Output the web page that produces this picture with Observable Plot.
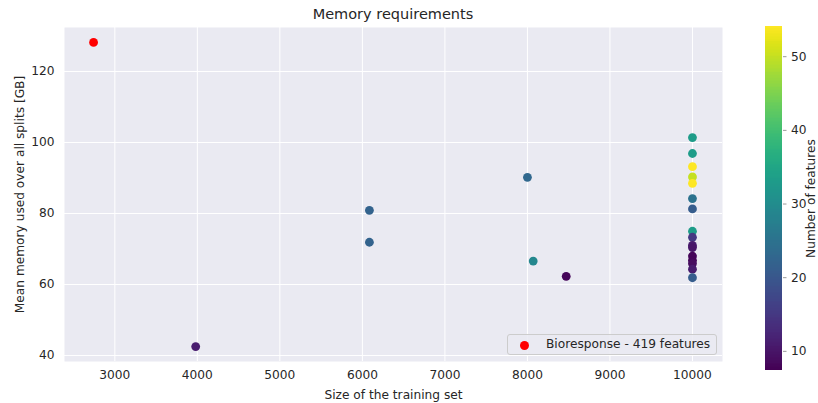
<!DOCTYPE html>
<html>
<head>
<meta charset="utf-8">
<script src="https://cdn.jsdelivr.net/npm/d3@7"></script>
<script src="https://cdn.jsdelivr.net/npm/@observablehq/plot@0.6"></script>
<style>
  html, body { margin: 0; padding: 0; background: #fff; }
  #wrap { position: relative; width: 818px; height: 403px; font-family: "DejaVu Sans", sans-serif; color: #262626; overflow: hidden; }
  #title { position: absolute; left: 64px; width: 658px; top: 7px; text-align: center; font-size: 14.5px; line-height: 1; }
  #legend { position: absolute; left: 507px; top: 334px; width: 210px; height: 21px; box-sizing: border-box;
            background: rgba(234,234,242,0.85); border: 1px solid #cccccc; border-radius: 3px; font-size: 12.2px; }
  #legend .dot { position: absolute; left: 12px; top: 6px; width: 9px; height: 9px; border-radius: 50%; background: red; }
  #legend .txt { position: absolute; left: 38px; top: 3px; white-space: nowrap; line-height: 1; }
  #main, #cbar { position: absolute; top: 0; }
  #main { left: 0; width: 740px; }
  #cbar { left: 765px; width: 53px; }
  svg { max-width: none !important; }
</style>
</head>
<body>
<div id="wrap">
  <div id="main"></div>
  <div id="cbar"></div>
  <div id="title"></div>
  <div id="legend"><span class="dot"></span><span class="txt"></span></div>
</div>
<script>
// ---- data ----
const chartTitle = "Memory requirements";
const xLabel = "Size of the training set";
const yLabel = "Mean memory used over all splits [GB]";
const colorLabel = "Number of features";
const trainSize = [3980, 6085, 6085, 8000, 8070, 8470,
  10000, 10000, 10000, 10000, 10000, 10000, 10000, 10000,
  10000, 10000, 10000, 10000, 10000, 10000, 10000, 10000];
const memoryGB = [42.5, 80.9, 71.9, 90.2, 66.6, 62.3,
  101.4, 96.9, 93.2, 90.3, 88.5, 84.2, 81.3, 75.0,
  73.3, 71.0, 70.4, 68.0, 66.8, 65.9, 64.3, 61.9];
const nFeatures = [11, 22, 22, 23, 29, 8,
  33, 33, 54, 50, 54, 25, 21, 33,
  15, 11, 10, 8, 8, 9, 11, 21];
const outlierName = ["Bioresponse - 419 features"];
const outlierSize = [2742];
const outlierMemory = [128.2];
const xTicks = [3000, 4000, 5000, 6000, 7000, 8000, 9000, 10000];
const yTicks = [40, 60, 80, 100, 120];
const cTicks = [10, 20, 30, 40, 50];

const points = trainSize.map((s, i) => ({size: s, mem: memoryGB[i], feat: nFeatures[i]}));
const outliers = outlierSize.map((s, i) => ({size: s, mem: outlierMemory[i], name: outlierName[i]}));
const colorDomain = [7.4, 54.1];
const textColor = "#262626";

const main = Plot.plot({
  width: 740, height: 403,
  marginLeft: 64, marginRight: 18, marginTop: 27, marginBottom: 42,
  style: {fontFamily: "DejaVu Sans, sans-serif", fontSize: "12px", color: textColor, background: "transparent"},
  x: {domain: [2390, 10364]},
  y: {domain: [38.3, 132.4]},
  color: {type: "linear", scheme: "viridis", domain: colorDomain},
  marks: [
    Plot.frame({fill: "#EAEAF2", stroke: null}),
    Plot.gridX(xTicks, {stroke: "white", strokeOpacity: 1, strokeWidth: 1}),
    Plot.gridY(yTicks, {stroke: "white", strokeOpacity: 1, strokeWidth: 1}),
    Plot.axisX({ticks: xTicks, tickSize: 0, tickPadding: 9, tickFormat: d => String(d), fontSize: 12.2,
      label: xLabel, labelAnchor: "center", labelArrow: "none", labelOffset: 37, fill: textColor}),
    Plot.axisY({ticks: yTicks, tickSize: 0, tickPadding: 10, tickFormat: d => String(d), fontSize: 12.2,
      label: yLabel, labelAnchor: "center", labelArrow: "none", labelOffset: 49, fill: textColor}),
    Plot.dot(points, {x: "size", y: "mem", fill: "feat", r: 4.4, stroke: null}),
    Plot.dot(outliers, {x: "size", y: "mem", fill: "red", r: 4.4, stroke: null})
  ]
});
document.getElementById("main").appendChild(main);

const bands = d3.range(colorDomain[0], colorDomain[1], 0.2);
const cbar = Plot.plot({
  width: 53, height: 403,
  marginLeft: 0, marginRight: 36, marginTop: 26, marginBottom: 33,
  style: {fontFamily: "DejaVu Sans, sans-serif", fontSize: "12px", color: textColor, background: "transparent"},
  x: {domain: [0, 1], axis: null},
  y: {domain: colorDomain},
  color: {type: "linear", scheme: "viridis", domain: colorDomain},
  marks: [
    Plot.rect(bands, {x1: 0, x2: 1, y1: d => d, y2: d => Math.min(d + 0.3, colorDomain[1]),
      fill: d => d + 0.1, shapeRendering: "crispEdges"}),
    Plot.axisY({anchor: "right", ticks: cTicks, tickSize: 3.5, tickPadding: 5, stroke: "#999999", fontSize: 12.2,
      label: colorLabel, labelAnchor: "center", labelArrow: "none", labelOffset: 32, fill: textColor})
  ]
});
document.getElementById("cbar").appendChild(cbar);

document.getElementById("title").textContent = chartTitle;
document.querySelector("#legend .txt").textContent = outlierName[0];
</script>
</body>
</html>
